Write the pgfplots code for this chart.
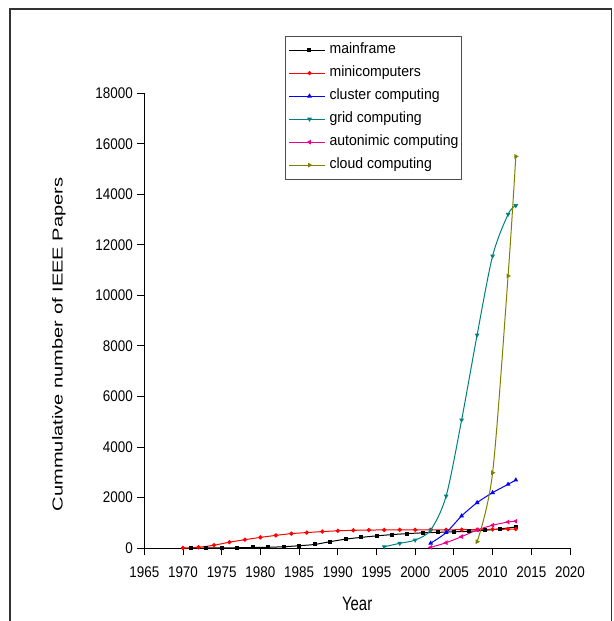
\documentclass[border=0pt]{standalone}
\usepackage{fontspec}
\setmainfont{Liberation Sans}
\newfontfamily\tickfont{Liberation Sans}[FakeStretch=0.87]
\newfontfamily\xlabfont{Liberation Sans}[FakeStretch=0.77]
\newfontfamily\ylabfont{Liberation Sans}[FakeStretch=1.39]
\newfontfamily\legfont{Liberation Sans}[FakeStretch=0.94]
\usepackage{pgfplots}
\pgfplotsset{compat=1.18}
\definecolor{teal2}{RGB}{0,128,128}
\definecolor{olive2}{RGB}{128,128,0}
\begin{document}
\begin{tikzpicture}
\path[use as bounding box] (-144.3bp,-73bp) rectangle (469.7bp,548bp);
\draw[line width=1.2bp, black!80] (-134.3bp,-90bp) -- (-134.3bp,539bp) -- (467.4bp,539bp) -- (467.4bp,-90bp);
\begin{axis}[
  at={(0,0)}, anchor=south west,
  scale only axis, width=425.7bp, height=454.7bp,
  xmin=1965, xmax=2020, ymin=0, ymax=18000,
  axis lines*=left,
  axis line style={line width=0.9bp},
  xtick={1965,1970,...,2020}, ytick={0,2000,...,18000},
  tick align=outside, major tick length=7bp,
  tick style={line width=0.9bp, black},
  /pgf/number format/assume math mode=true,
  /pgf/number format/1000 sep={},
  scaled y ticks=false,
  tick label style={font=\tickfont\fontsize{15.5}{17}\selectfont},
  xticklabel style={yshift=-8.5bp},
  yticklabel style={xshift=-1bp},
  xlabel={Year}, ylabel={Cummulative number of IEEE Papers},
  xlabel style={font=\xlabfont\fontsize{19.5}{21}\selectfont, at={(axis description cs:0.5,0)}, anchor=base, yshift=-62.7bp},
  ylabel style={font=\ylabfont\fontsize{14.5}{16}\selectfont, at={(axis description cs:-0.1919,0.448)}, anchor=base},
  legend style={at={(0.3305,1.1265)}, anchor=north west, draw=black!70, line width=0.8bp,
    font=\legfont\fontsize{15}{16}\selectfont, row sep=8.5bp, column sep=4bp,
    inner xsep=3.3bp, inner ysep=6.7bp,
    nodes={inner sep=0pt, text height=11bp, text depth=3.5bp}},
  legend cell align=left,
  legend image code/.code={\path (-4.7bp,0) -- (0,0); \draw[mark repeat=2,mark phase=2] plot coordinates {(0cm,0cm) (0.55cm,0cm) (1.1cm,0cm)};},
  every axis plot/.append style={line width=1bp, smooth, tension=0.5, mark size=1.8bp},
  clip=false,
]
\addplot[black, mark=square*, mark size=1.5bp] coordinates {
(1971,0) (1973,0) (1975,5) (1977,10) (1979,20) (1981,30) (1983,50) (1985,90) (1987,140) (1989,250) (1991,350) (1993,420) (1995,480) (1997,530) (1999,570) (2001,600) (2003,620) (2005,640) (2007,660) (2009,700) (2011,760) (2013,830)};
\addlegendentry{mainframe}
\addplot[red, mark=*, mark size=1.6bp] coordinates {
(1970,0) (1972,30) (1974,110) (1976,230) (1978,330) (1980,420) (1982,500) (1984,570) (1986,610) (1988,650) (1990,680) (1992,700) (1994,710) (1996,715) (1998,720) (2000,720) (2002,720) (2004,720) (2006,725) (2008,730) (2010,735) (2012,745) (2013,750)};
\addlegendentry{minicomputers}
\addplot[blue, mark=triangle*] coordinates {
(2002,190) (2004,610) (2006,1270) (2008,1795) (2010,2190) (2012,2520) (2013,2690)};
\addlegendentry{cluster computing}
\addplot[teal2, mark=triangle*, mark options={rotate=180}] coordinates {
(1996,50) (1998,185) (2000,317) (2002,713) (2004,2060) (2006,5070) (2008,8435) (2010,11560) (2012,13210) (2013,13555)};
\addlegendentry{grid computing}
\addplot[magenta, mark=triangle*, mark options={rotate=90}] coordinates {
(2002,25) (2004,210) (2006,450) (2008,713) (2010,900) (2012,1030) (2013,1060)};
\addlegendentry{autonimic computing}
\addplot[olive2, mark=triangle*, mark options={rotate=-90}] coordinates {
(2008,250) (2010,2980) (2012,10770) (2013,15500)};
\addlegendentry{cloud computing}
\end{axis}
\end{tikzpicture}
\end{document}
